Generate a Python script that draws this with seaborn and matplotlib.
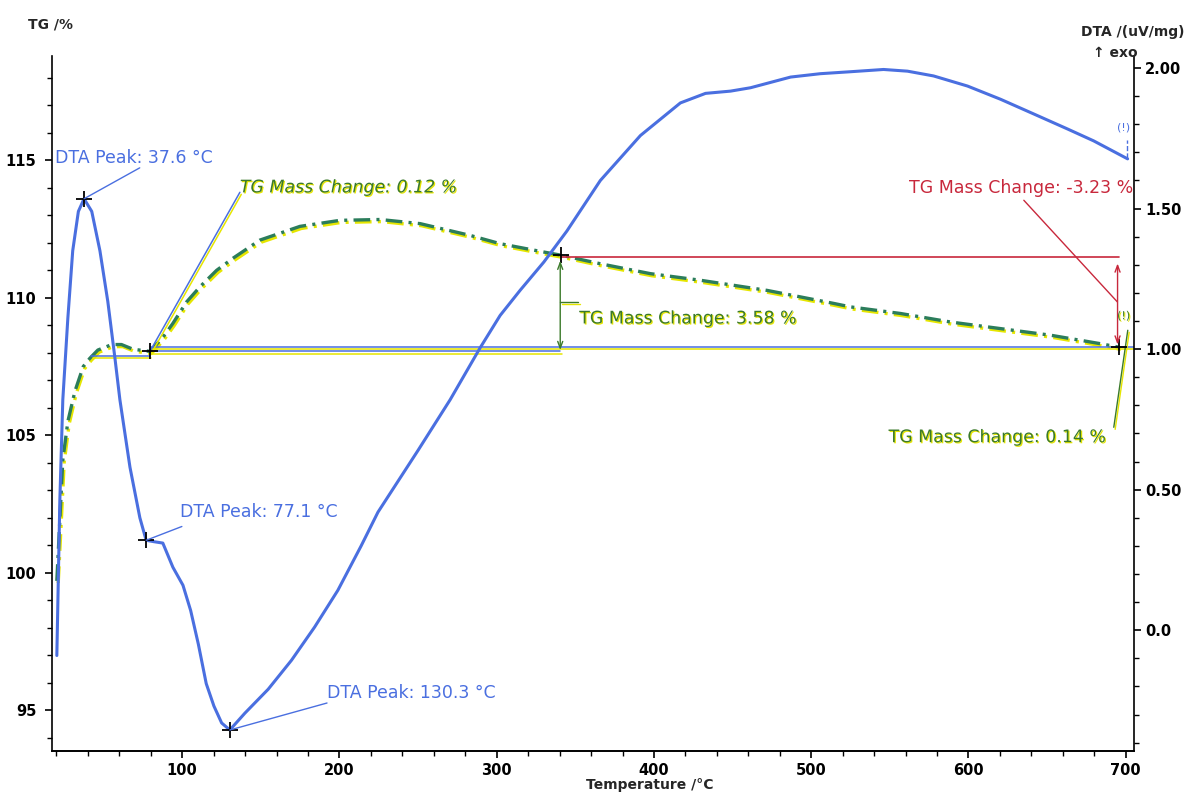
"""TG / DTA thermogram: mass loss (left) and DTA signal (right) versus temperature."""

import matplotlib

matplotlib.use("Agg")
import matplotlib.patheffects as pe
import matplotlib.pyplot as plt
from matplotlib.ticker import MultipleLocator

import seaborn as sns

# DTA trace (right axis, uV/mg)
dta_temp = [20.3, 22.2, 24.1, 27.3, 30.4, 34.0, 37.6, 42.5, 47.7, 52.7, 57.2,
            60.4, 66.8, 73.1, 77.1, 82.0, 87.7, 94.1, 100.5, 105.4, 110.3,
            115.3, 120.2, 125.1, 130.3, 139.9, 154.7, 169.5, 184.2, 199.0,
            213.8, 224.5, 250.0, 270.4, 289.5, 302.2, 315.0, 330.0, 344.6,
            365.9, 391.4, 416.8, 432.8, 448.7, 461.4, 486.9, 505.8, 525.0,
            546.0, 561.2, 577.8, 599.4, 620.4, 641.4, 663.1, 679.6, 701.2]
dta_signal = [-0.09, 0.46, 0.82, 1.11, 1.35, 1.49, 1.535, 1.49, 1.35, 1.17,
              0.97, 0.82, 0.58, 0.40, 0.32, 0.315, 0.31, 0.224, 0.16, 0.07,
              -0.05, -0.19, -0.27, -0.33, -0.355, -0.295, -0.21, -0.107,
              0.011, 0.142, 0.30, 0.42, 0.64, 0.82, 1.005, 1.12, 1.21, 1.31,
              1.42, 1.60, 1.76, 1.876, 1.91, 1.918, 1.93, 1.968, 1.98, 1.987,
              1.995, 1.989, 1.972, 1.936, 1.889, 1.837, 1.783, 1.741, 1.677]

# TG trace (left axis, %)
tg_temp = [20.3, 22.2, 24.1, 27.3, 31.8, 37.1, 41.3, 46.4, 55.3, 61.4, 68.7,
           79.5, 87.7, 94.1, 102.8, 111.3, 121.9, 132.3, 149.4, 174.9, 200.4,
           225.9, 251.3, 283.2, 302.2, 329.6, 341.0, 365.9, 397.7, 429.5,
           472.0, 514.0, 525.0, 556.8, 588.6, 620.4, 652.2, 684.0, 696.0]
tg_mass = [99.7, 101.9, 104.1, 105.5, 106.6, 107.5, 107.8, 108.1, 108.3,
           108.3, 108.13, 108.05, 108.56, 109.07, 109.85, 110.4, 111.0, 111.44,
           112.1, 112.6, 112.82, 112.85, 112.7, 112.27, 111.97, 111.67, 111.55,
           111.24, 110.88, 110.64, 110.27, 109.8, 109.67, 109.43, 109.12,
           108.88, 108.64, 108.33, 108.2]

# evaluated points
dta_peak_temp = [37.6, 77.1, 130.3]
dta_peak_signal = [1.535, 0.32, -0.355]
dta_peak_text = ["DTA Peak: 37.6 °C", "DTA Peak: 77.1 °C", "DTA Peak: 130.3 °C"]
tg_step_temp = [79.5, 341.0, 696.0]
tg_step_mass = [108.05, 111.55, 108.2]
tg_change_text = ["TG Mass Change: 0.12 %", "TG Mass Change: 3.58 %",
                  "TG Mass Change: -3.23 %", "TG Mass Change: 0.14 %"]

x_ticks = [100, 200, 300, 400, 500, 600, 700]
tg_ticks = [95, 100, 105, 110, 115]
dta_ticks = [0.0, 0.5, 1.0, 1.5, 2.0]
dta_tick_labels = ["0.0", "0.50", "1.00", "1.50", "2.00"]

DTA_BLUE = "#4a6fe0"
TG_GREEN = "#2b7d5b"
TXT_GREEN = "#3b7a2a"
RED = "#c8283c"
YELLOW = "#e6e600"

sns.set_theme(style="ticks")
plt.rcParams["font.family"] = ["DejaVu Sans"]
plt.rcParams["lines.scale_dashes"] = False

shadow = [pe.SimpleLineShadow(offset=(1.0, -1.5), shadow_color=YELLOW, alpha=1),
          pe.Normal()]
text_shadow = [pe.withSimplePatchShadow(offset=(0.8, -0.8), shadow_rgbFace=YELLOW,
                                        alpha=1)]

fig = plt.figure(figsize=(11.9, 7.93), dpi=100)
ax = fig.add_axes([0.0434, 0.0533, 0.9096, 0.8761])
ax2 = ax.twinx()

sns.lineplot(x=tg_temp, y=tg_mass, ax=ax, color=TG_GREEN, lw=2.4,
             linestyle=(0, (12, 4.5, 2.2, 4.5)), path_effects=shadow)
sns.lineplot(x=dta_temp, y=dta_signal, ax=ax2, color=DTA_BLUE, lw=2.2)

ax.set_xlim(17, 705.3)
ax.set_ylim(93.52, 118.8)
ax2.set_ylim(-0.4288, 2.043)

# DTA peak labels
thin = dict(arrowstyle="-", color=DTA_BLUE, lw=1, shrinkA=0, shrinkB=0)
ax2.annotate("", xy=(dta_peak_temp[0], dta_peak_signal[0]), xytext=(73, 1.645),
             arrowprops=thin)
ax2.annotate("", xy=(dta_peak_temp[1], dta_peak_signal[1]), xytext=(99.8, 0.369),
             arrowprops=thin)
ax2.annotate("", xy=(dta_peak_temp[2], dta_peak_signal[2]), xytext=(192.1, -0.259),
             arrowprops=thin)
label_kw = dict(color=DTA_BLUE, fontsize=12.5, ha="left", va="center")
ax2.text(19.0, 1.68, dta_peak_text[0], **label_kw)
ax2.text(98.5, 0.419, dta_peak_text[1], **label_kw)
ax2.text(192.1, -0.224, dta_peak_text[2], **label_kw)
ax2.plot(dta_peak_temp, dta_peak_signal, ls="none", marker="+", ms=11,
         mew=1.3, color="black")

# TG evaluation lines
base_kw = dict(color=DTA_BLUE, lw=1.1, path_effects=shadow)
ax.plot([42.3, tg_step_temp[0]], [107.89, 107.89], **base_kw)
ax.plot([tg_step_temp[0], 340.4], [108.05, 108.05], **base_kw)
ax.plot([tg_step_temp[0], 705], [108.21, 108.21], **base_kw)
ax.plot([tg_step_temp[0], 136.7], [tg_step_mass[0], 113.84], **base_kw)
ax.text(136.7, 114.02, tg_change_text[0], color=TXT_GREEN, fontsize=12.5,
        style="italic", va="center", path_effects=text_shadow)

ax.annotate("", xy=(340.4, 111.35), xytext=(340.4, 108.1),
            arrowprops=dict(arrowstyle="<->,head_length=0.4,head_width=0.15",
                            color=TXT_GREEN, lw=1, shrinkA=0, shrinkB=0))
ax.plot([340.4, 351.9], [109.84, 109.84], color=TXT_GREEN, lw=1,
        path_effects=shadow)
ax.text(352.5, 109.25, tg_change_text[1], color=TXT_GREEN, fontsize=12.5,
        va="center", path_effects=text_shadow)

ax.plot([tg_step_temp[1], 695.8], [111.48, 111.48], color=RED, lw=1.2)
ax.annotate("", xy=(694.8, 111.25), xytext=(694.8, 108.3),
            arrowprops=dict(arrowstyle="<->,head_length=0.4,head_width=0.15",
                            color=RED, lw=1, shrinkA=0, shrinkB=0))
ax.plot([635.2, 694.7], [113.55, 109.85], color=RED, lw=1)
ax.text(562, 113.98, tg_change_text[2], color=RED, fontsize=12.5, va="center")

ax.plot([692.4, 701.3], [105.29, 108.82], color=TXT_GREEN, lw=1,
        path_effects=shadow)
ax.text(549.2, 104.93, tg_change_text[3], color=TXT_GREEN, fontsize=12.5,
        va="center", path_effects=text_shadow)

ax.text(694.5, 116.2, "(!)", color=DTA_BLUE, fontsize=8, va="center")
ax.plot([700.8, 700.8], [115.1, 115.75], color=DTA_BLUE, lw=1, ls="--")
ax.text(694.5, 109.33, "(!)", color=TXT_GREEN, fontsize=8, va="center",
        path_effects=text_shadow)

ax.plot(tg_step_temp, tg_step_mass, ls="none", marker="+", ms=11, mew=1.3,
        color="black")

# axes and ticks
ax.set_xticks(x_ticks)
ax.xaxis.set_minor_locator(MultipleLocator(20))
ax.set_yticks(tg_ticks)
ax.yaxis.set_minor_locator(MultipleLocator(1))
ax2.set_yticks(dta_ticks)
ax2.set_yticklabels(dta_tick_labels)
ax2.yaxis.set_minor_locator(MultipleLocator(0.1))
ax.set_xlabel("")
ax.set_ylabel("")
ax2.set_ylabel("")

for a in (ax, ax2):
    a.grid(False)
    a.spines["top"].set_visible(False)
    for s in a.spines.values():
        s.set_linewidth(1.2)
        s.set_color("black")
    a.tick_params(which="major", direction="out", length=5, width=1.2,
                  color="black", labelsize=10.5, labelcolor="black")
    a.tick_params(which="minor", direction="out", length=3.5, width=1,
                  color="black")
ax.spines["right"].set_visible(False)
ax2.spines["left"].set_visible(False)
ax.tick_params(axis="y", which="major", pad=6)
ax.tick_params(axis="x", which="major", pad=4)
ax2.tick_params(axis="y", which="major", pad=3)
for lab in ax.get_xticklabels() + ax.get_yticklabels() + ax2.get_yticklabels():
    lab.set_fontweight("bold")

fig.text(0.0235, 0.9685, "TG /%", fontsize=10, fontweight="bold",
         ha="left", va="center")
fig.text(0.952, 0.9596, "DTA /(uV/mg)", fontsize=10, fontweight="bold",
         ha="center", va="center")
fig.text(0.937, 0.9332, "↑ exo", fontsize=10, fontweight="bold",
         ha="center", va="center")
fig.text(0.546, 0.0101, "Temperature /°C", fontsize=10, fontweight="bold",
         ha="center", va="center")

fig.savefig("out.png", dpi=100)
